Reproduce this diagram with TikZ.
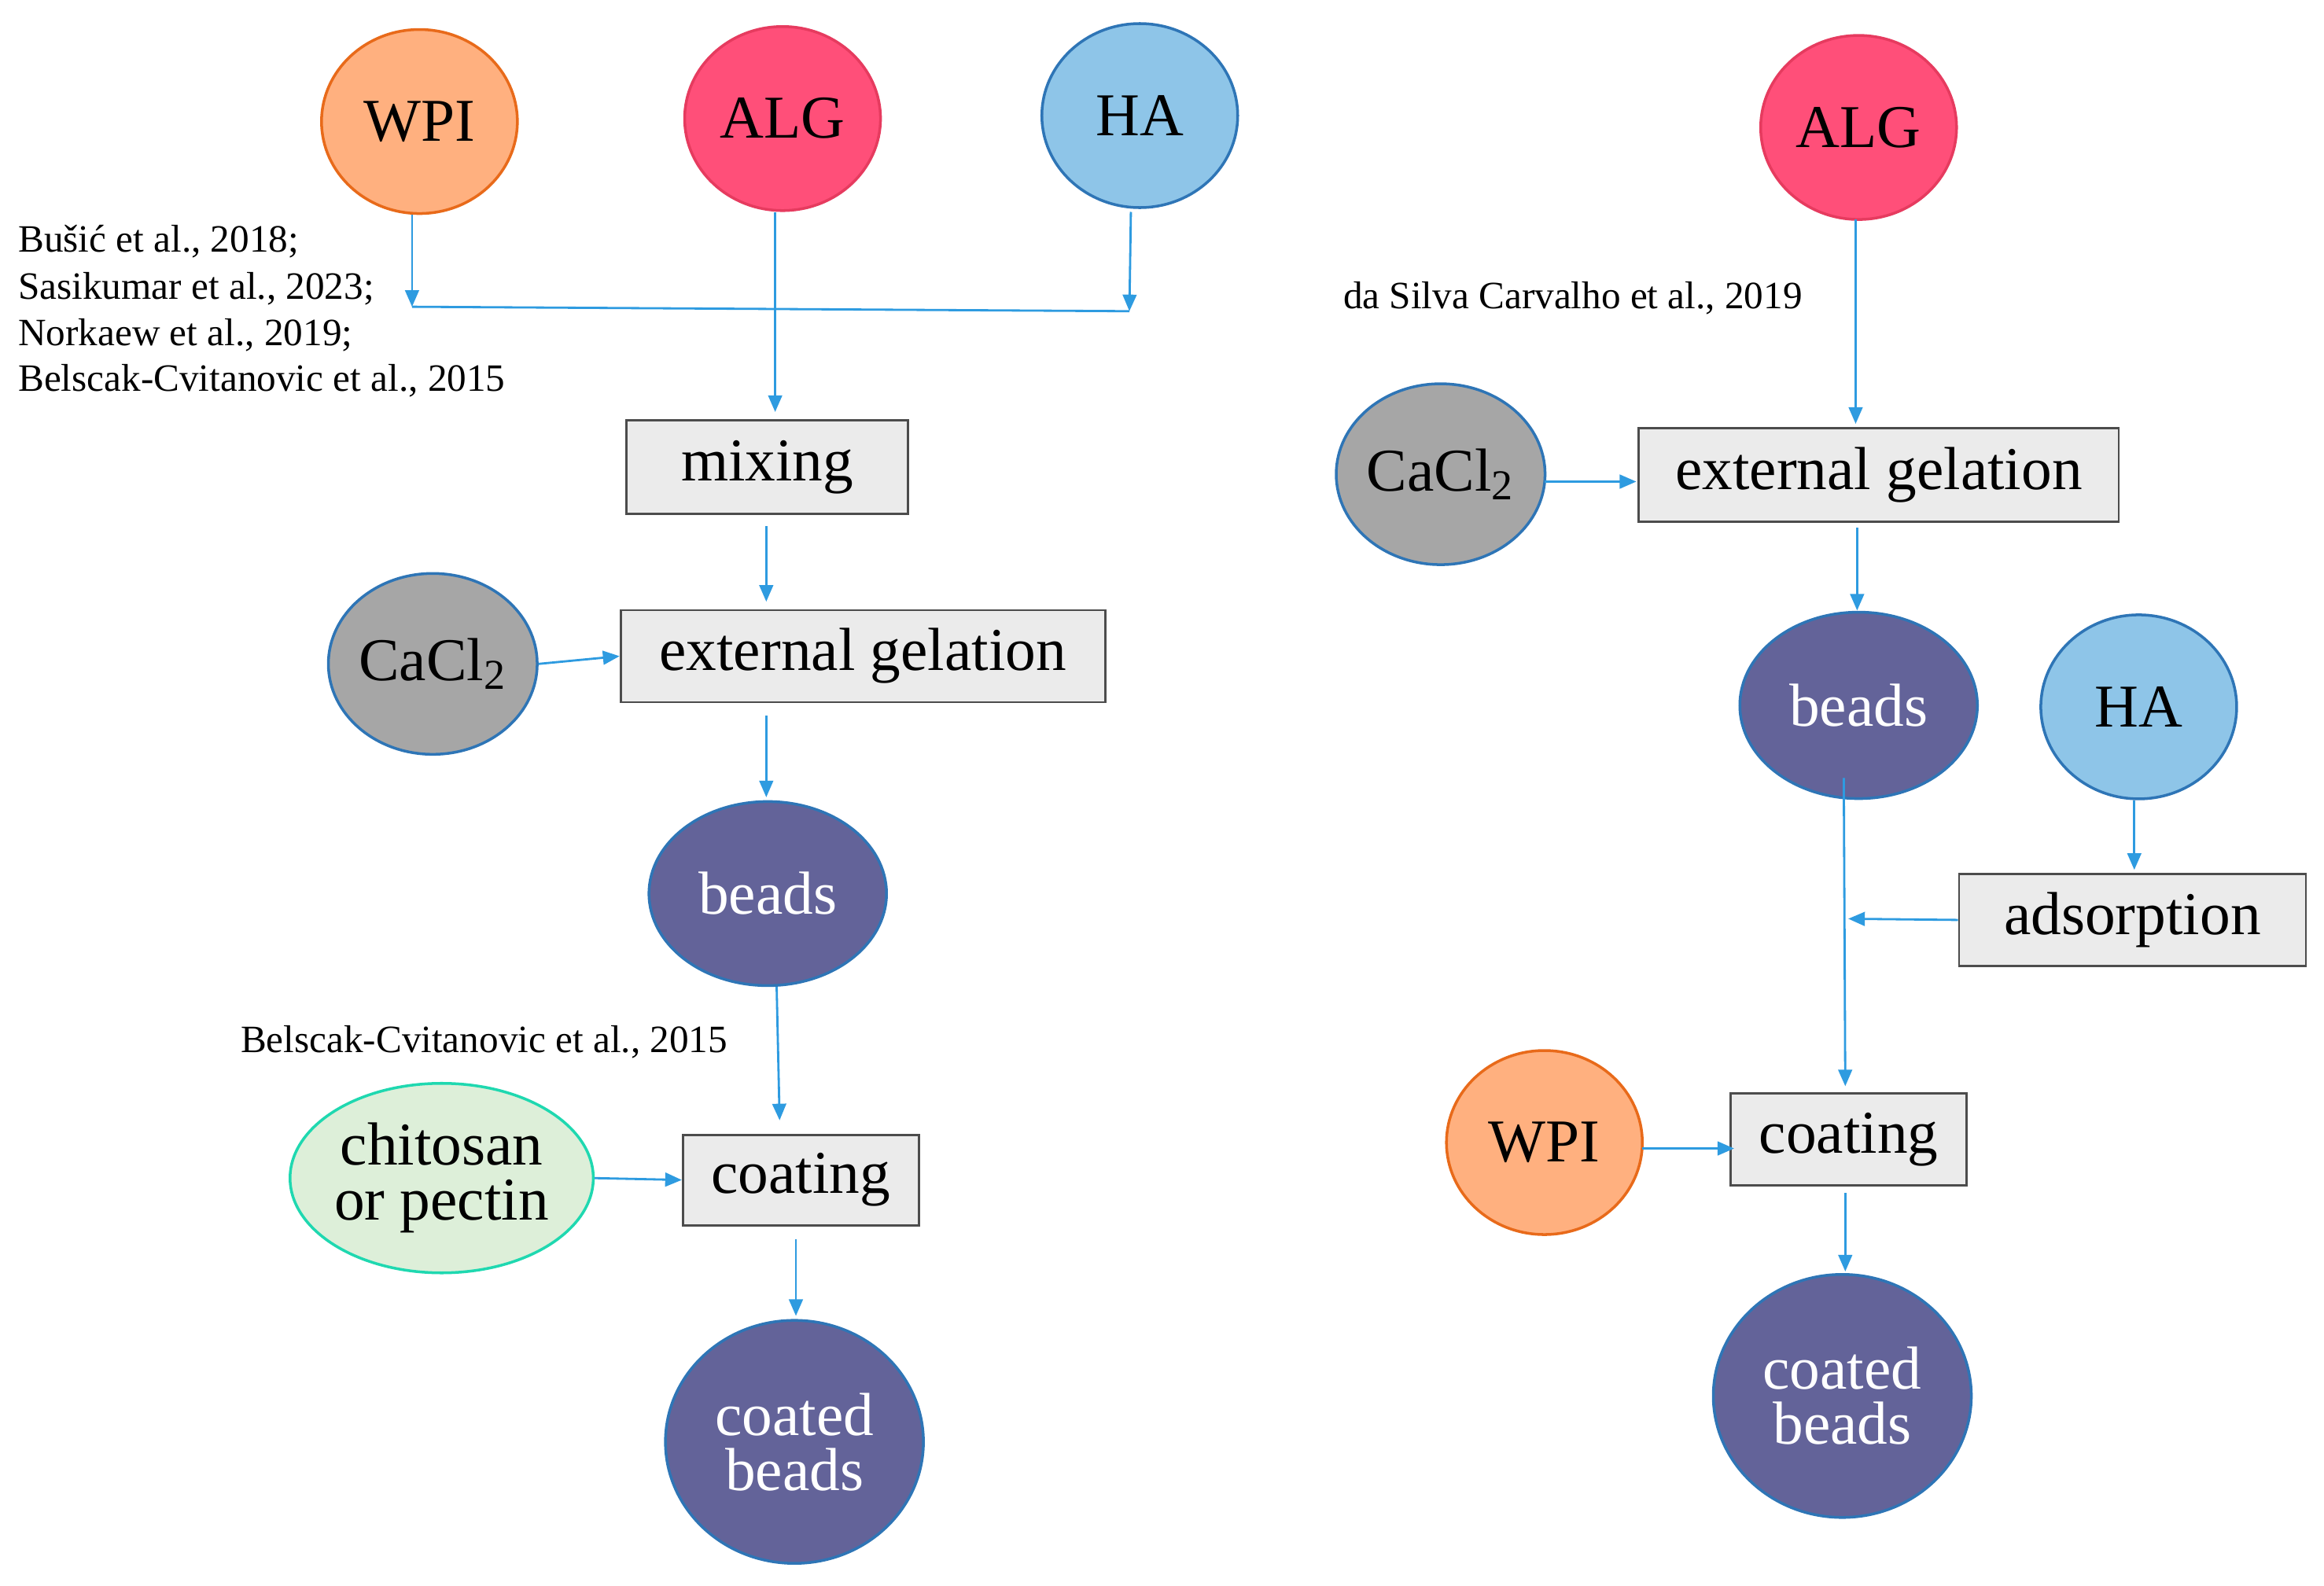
\documentclass[tikz,border=0pt]{standalone}
\usepackage{fontspec}
\setmainfont{Liberation Serif}
\usetikzlibrary{arrows.meta,shapes.geometric}
\definecolor{arr}{HTML}{2E9BE0}
\definecolor{bord}{HTML}{2E75B6}
\begin{document}
\begin{tikzpicture}[x=0.018846cm,y=-0.018846cm,
 el/.style={ellipse,draw=bord,line width=1pt,inner sep=0pt,font=\fontsize{22}{24}\selectfont},
 box/.style={draw=black!70,fill=black!8,line width=0.8pt,anchor=north west,inner sep=0pt,font=\fontsize{22}{24}\selectfont},
 bead/.style={el,fill=HTML636399,text=white},
 ar/.style={draw=arr,line width=0.8pt,-{Triangle[length=6pt,width=5pt]}},
 ln/.style={draw=arr,line width=0.8pt},
 cit/.style={font=\fontsize{14}{16}\selectfont,anchor=west,inner sep=0pt}]
\colorlet{HTML636399}{blue!0}
\definecolor{beadc}{HTML}{636399}
\tikzset{bead/.style={el,fill=beadc,text=white}}
\useasboundingbox (0,0) rectangle (1568,1070);
\definecolor{wpi}{HTML}{FFB07F}\definecolor{wpib}{HTML}{E86A1A}
\definecolor{alg}{HTML}{FF4F79}\definecolor{algb}{HTML}{E63B5F}
\definecolor{ha}{HTML}{8EC5E8}
\definecolor{cac}{HTML}{A6A6A6}
\definecolor{chi}{HTML}{DDEFD9}\definecolor{chib}{HTML}{1FD8B0}
% left
\node[el,fill=wpi,draw=wpib,minimum width=132\pgflinewidth,minimum width=2.49cm,minimum height=2.34cm] (wpi1) at (283,82) {WPI};
\node[el,fill=alg,draw=algb,minimum width=2.49cm,minimum height=2.34cm] (alg1) at (528,80) {ALG};
\node[el,fill=ha,minimum width=2.49cm,minimum height=2.34cm] (ha1) at (769,78) {HA};
\node[box,minimum width=3.58cm,minimum height=1.19cm] (mix) at (422,283) {mixing};
\node[box,minimum width=6.16cm,minimum height=1.17cm] (eg1) at (418,411) {external gelation};
\node[el,fill=cac,minimum width=2.6cm,minimum height=2.3cm] (ca1) at (292,448) {CaCl\textsubscript{2}};
\node[bead,minimum width=3.02cm,minimum height=2.34cm] (b1) at (518,603) {beads};
\node[box,minimum width=3.0cm,minimum height=1.15cm] (co1) at (460,765) {coating};
\node[el,fill=chi,draw=chib,minimum width=3.58cm,minimum height=2.41cm,align=center] (chi) at (298,795) {chitosan\\[-4pt]or pectin};
\node[bead,minimum width=3.28cm,minimum height=3.09cm,align=center] (cb1) at (536,973) {coated\\[-4pt]beads};
\coordinate (j1) at (278,207); \coordinate (j2) at (762,210);
\draw[ar] (278,145) -- (j1);
\draw[ar] (763,143) -- (j2);
\draw[ln] (j1) -- (j2);
\draw[ar] (alg1.south) ++(-5,0) -- (523,278);
\draw[ar] (517,355) -- (517,406);
\draw[ar] (ca1.east) -- (eg1.west);
\draw[ar] (517,483) -- (517,538);
\draw[ar] (b1.south) ++(6,0) -- (526,756);
\draw[ar] (chi.east) -- (co1.west);
\draw[ar] (537,836) -- (537,888);
\node[cit] (c1) at (12,163) {Bušić et al., 2018;};
\node[cit] (c2) at (12,195) {Sasikumar et al., 2023;};
\node[cit] (c3) at (12,226) {Norkaew et al., 2019;};
\node[cit] (c4) at (12,257) {Belscak-Cvitanovic et al., 2015};
\node[cit] (c5) at (162,703) {Belscak-Cvitanovic et al., 2015};
% right
\node[el,fill=alg,draw=algb,minimum width=2.49cm,minimum height=2.34cm] (alg2) at (1254,86) {ALG};
\node[cit] (c6) at (906,201) {da Silva Carvalho et al., 2019};
\node[box,minimum width=6.1cm,minimum height=1.19cm] (eg2) at (1105,288) {external gelation};
\node[el,fill=cac,minimum width=2.6cm,minimum height=2.3cm] (ca2) at (972,320) {CaCl\textsubscript{2}};
\node[bead,minimum width=3.02cm,minimum height=2.37cm] (b2) at (1254,476) {beads};
\node[el,fill=ha,minimum width=2.49cm,minimum height=2.34cm] (ha2) at (1443,477) {HA};
\node[box,minimum width=4.41cm,minimum height=1.17cm] (ads) at (1321,589) {adsorption};
\node[box,minimum width=3.0cm,minimum height=1.17cm] (co2) at (1167,737) {coating};
\node[el,fill=wpi,draw=wpib,minimum width=2.49cm,minimum height=2.34cm] (wpi2) at (1042,771) {WPI};
\node[bead,minimum width=3.28cm,minimum height=3.09cm,align=center] (cb2) at (1243,942) {coated\\[-4pt]beads};
\coordinate (j3) at (1247,620);
\draw[ar] (1252,148) -- (1252,286);
\draw[ar] (1042,325) -- (1104,325);
\draw[ar] (1253,356) -- (1253,412);
\draw[ar] (1440,540) -- (1440,587);
\draw[ar] (ads.west) -- (j3);
\draw[ar] (1244,525) -- (1245,733);
\draw[ar] (1108,775) -- (1170,775);
\draw[ar] (1245,805) -- (1245,858);
\end{tikzpicture}
\end{document}
